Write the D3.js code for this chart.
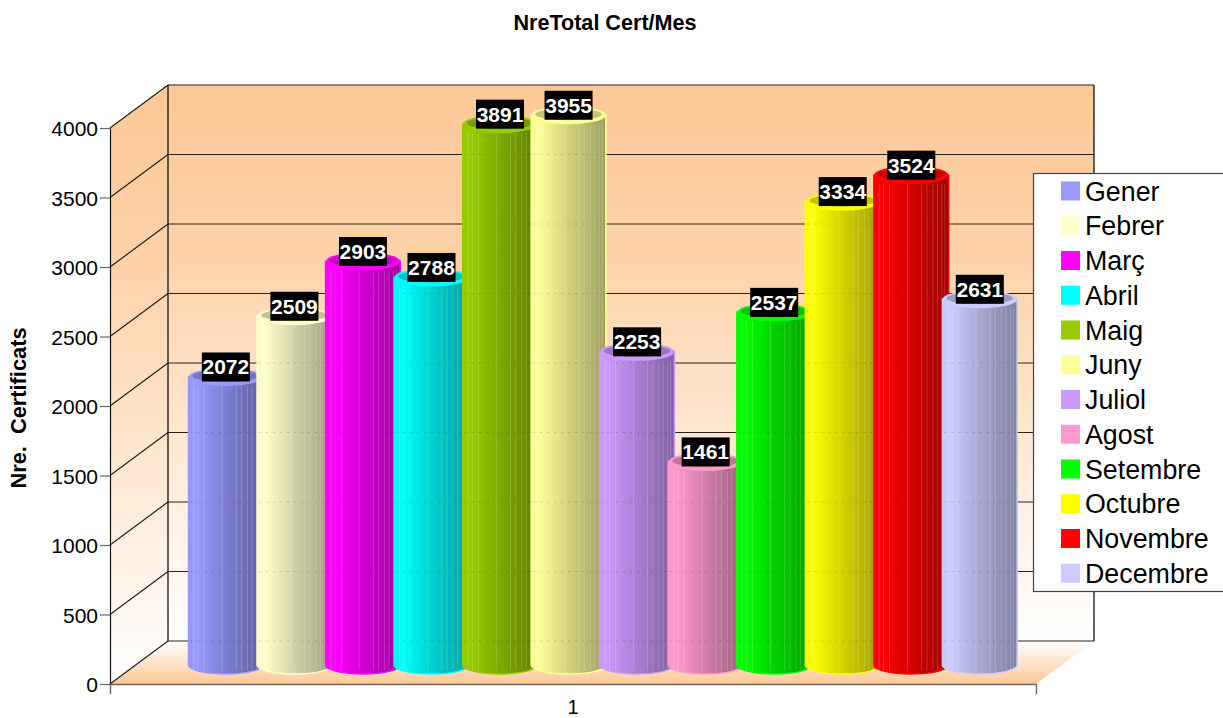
<!DOCTYPE html>
<html>
<head>
<meta charset="utf-8">
<script src="https://cdn.jsdelivr.net/npm/d3@7"></script>
<style>
html, body { margin: 0; padding: 0; background: #fff; overflow: hidden; }
svg text { font-family: "Liberation Sans", Arial, sans-serif; }
</style>
</head>
<body>
<div id="chart"></div>
<script>
const months = ["Gener", "Febrer", "Març", "Abril", "Maig", "Juny", "Juliol", "Agost", "Setembre", "Octubre", "Novembre", "Decembre"];
const values = [2072, 2509, 2903, 2788, 3891, 3955, 2253, 1461, 2537, 3334, 3524, 2631];
const colors = ["#9999ff", "#ffffcc", "#ff00ff", "#00ffff", "#99cc00", "#ffff99", "#cc99ff", "#ff99cc", "#00ff00", "#ffff00", "#ff0000", "#ccccff"];
const yTicks = [0, 500, 1000, 1500, 2000, 2500, 3000, 3500, 4000];
const xCategories = ["1"];

const width = 1223, height = 718;
// front plane of the 3d box and how far the back wall is shifted from it
const front = {left: 110, right: 1036, top: 128, bottom: 684};
const depthX = 58, depthY = 43;
const barShiftY = 19;

const svg = d3.select("#chart").append("svg")
    .attr("width", width)
    .attr("height", height);
const defs = svg.append("defs");

const y = d3.scaleLinear().domain([0, 4000]).range([front.bottom, front.top]);
const x = d3.scaleBand().domain(xCategories).range([front.left, front.right]);
const xBars = d3.scaleBand().domain(months).range([188.5, 1011]);
const barW = xBars.step() * 1.09;
const rx = barW / 2, ry = 9;

// wall + floor gradients
const wallGrad = defs.append("linearGradient").attr("id", "wall")
    .attr("x1", 0).attr("y1", 0).attr("x2", 0).attr("y2", 1);
wallGrad.append("stop").attr("offset", "0").attr("stop-color", "#fdc896");
wallGrad.append("stop").attr("offset", "0.3").attr("stop-color", "#fed2a9");
wallGrad.append("stop").attr("offset", "1").attr("stop-color", "#ffffff");
const floorGrad = defs.append("linearGradient").attr("id", "floor")
    .attr("x1", 0).attr("y1", 0).attr("x2", 0).attr("y2", 1);
floorGrad.append("stop").attr("offset", "0").attr("stop-color", "#ffffff");
floorGrad.append("stop").attr("offset", "1").attr("stop-color", "#fdc896");

const backLeft = front.left + depthX, backRight = front.right + depthX;

// side wall
svg.append("polygon")
    .attr("points", [[front.left, y(4000)], [backLeft, y(4000) - depthY], [backLeft, y(0) - depthY], [front.left, y(0)]].join(" "))
    .attr("fill", "url(#wall)");
// back wall
svg.append("rect")
    .attr("x", backLeft).attr("y", y(4000) - depthY)
    .attr("width", backRight - backLeft).attr("height", y(0) - y(4000))
    .attr("fill", "url(#wall)");
// floor
svg.append("polygon")
    .attr("points", [[front.left, y(0)], [backLeft, y(0) - depthY], [backRight, y(0) - depthY], [front.right, y(0)]].join(" "))
    .attr("fill", "url(#floor)");

// grid lines on the walls
yTicks.forEach(function(t) {
    svg.append("line")
        .attr("x1", front.left).attr("y1", y(t))
        .attr("x2", backLeft).attr("y2", y(t) - depthY)
        .attr("stroke", "#222").attr("stroke-width", 1.2);
    svg.append("line")
        .attr("x1", backLeft).attr("y1", y(t) - depthY)
        .attr("x2", backRight).attr("y2", y(t) - depthY)
        .attr("stroke", "#222").attr("stroke-width", 1.2);
});
svg.append("line")
    .attr("x1", backLeft).attr("y1", y(4000) - depthY)
    .attr("x2", backLeft).attr("y2", y(0) - depthY)
    .attr("stroke", "#111").attr("stroke-width", 1.3);
svg.append("line")
    .attr("x1", backRight).attr("y1", y(4000) - depthY)
    .attr("x2", backRight).attr("y2", y(0) - depthY)
    .attr("stroke", "#111").attr("stroke-width", 1.3);

// axes
const yAxis = svg.append("g")
    .attr("transform", "translate(" + front.left + ",0)")
    .call(d3.axisLeft(y).tickValues(yTicks).tickFormat(d3.format("d")).tickSizeInner(10).tickSizeOuter(0).tickPadding(2));
yAxis.selectAll("text").attr("font-size", 21).attr("fill", "#000").attr("dy", "0.37em");
yAxis.selectAll("line").attr("stroke", "#666").attr("stroke-width", 1.2);
yAxis.select("path").attr("stroke", "#111").attr("stroke-width", 1.2);

const xAxis = svg.append("g")
    .attr("transform", "translate(0," + front.bottom + ")")
    .call(d3.axisBottom(x).tickSizeInner(0).tickSizeOuter(10).tickPadding(16));
xAxis.selectAll("text").attr("font-size", 20).attr("fill", "#000");
xAxis.select("path").attr("stroke", "#666").attr("stroke-width", 1.4);

// cylinders, later months sit on top of earlier ones
const stripes = [0.07, 0.13, 0.21, 0.45, 0.64, 0.71, 0.79, 0.85, 0.91, 0.95];
months.forEach(function(m, i) {
    const c = d3.color(colors[i]);
    const grad = defs.append("linearGradient").attr("id", "bar" + i);
    grad.append("stop").attr("offset", "0").attr("stop-color", c.darker(0.05));
    grad.append("stop").attr("offset", "0.1").attr("stop-color", c);
    grad.append("stop").attr("offset", "0.5").attr("stop-color", c.darker(0.55));
    grad.append("stop").attr("offset", "1").attr("stop-color", c.darker(1.3));

    const left = xBars(m), right = left + barW;
    const top = y(values[i]) - barShiftY;
    const base = y(0) - barShiftY;
    const g = svg.append("g");

    g.append("path")
        .attr("d", "M" + left + "," + top + "L" + left + "," + base +
            "A" + rx + "," + ry + " 0 0 0 " + right + "," + base +
            "L" + right + "," + top + "Z")
        .attr("fill", "url(#bar" + i + ")")
        .attr("stroke", c)
        .attr("stroke-width", 1.5);

    // thin light bands of the faceted surface
    stripes.forEach(function(s) {
        const sx = left + barW * s;
        g.append("line")
            .attr("x1", sx).attr("y1", top + ry)
            .attr("x2", sx).attr("y2", base + ry * 0.6)
            .attr("stroke", "#fff").attr("stroke-opacity", 0.18).attr("stroke-width", 1);
    });

    // grid lines showing faintly through the bar
    yTicks.forEach(function(t) {
        const gy = y(t) - depthY;
        if (gy > top + ry && gy < base) {
            g.append("line")
                .attr("x1", left + 2).attr("y1", gy)
                .attr("x2", right - 2).attr("y2", gy)
                .attr("stroke", "#000").attr("stroke-opacity", 0.15)
                .attr("stroke-dasharray", "2 5");
        }
    });

    // top cap
    g.append("ellipse")
        .attr("cx", left + rx).attr("cy", top).attr("rx", rx).attr("ry", ry)
        .attr("fill", c);
    g.append("ellipse")
        .attr("cx", left + rx).attr("cy", top - 1).attr("rx", rx - 4).attr("ry", ry - 3)
        .attr("fill", c.darker(0.75));
});

// value labels go above all the bars
months.forEach(function(m, i) {
    const cx = xBars(m) + barW / 2;
    const cy = y(values[i]) - barShiftY - 10;
    svg.append("rect")
        .attr("x", cx - 24).attr("y", cy - 14.5)
        .attr("width", 48).attr("height", 29)
        .attr("fill", "#000");
    svg.append("text")
        .attr("x", cx).attr("y", cy + 7.5)
        .attr("text-anchor", "middle")
        .attr("font-size", 21).attr("font-weight", "bold")
        .attr("fill", "#fff")
        .text(values[i]);
});

// titles
svg.append("text")
    .attr("x", 605).attr("y", 30)
    .attr("text-anchor", "middle")
    .attr("font-size", 21.6).attr("font-weight", "bold")
    .text("NreTotal Cert/Mes");
svg.append("text")
    .attr("transform", "translate(26,408) rotate(-90)")
    .attr("text-anchor", "middle")
    .attr("font-size", 21.8).attr("font-weight", "bold")
    .style("white-space", "pre")
    .text("Nre.  Certificats");

// legend
const legend = svg.append("g");
legend.append("rect")
    .attr("x", 1033.5).attr("y", 173.5)
    .attr("width", 200).attr("height", 418)
    .attr("fill", "#fff")
    .attr("stroke", "#444").attr("stroke-width", 1.2);
months.forEach(function(m, i) {
    const ly = 191 + i * 34.75;
    legend.append("rect")
        .attr("x", 1061).attr("y", ly - 9.5)
        .attr("width", 19).attr("height", 19)
        .attr("fill", colors[i]);
    legend.append("text")
        .attr("x", 1085).attr("y", ly + 9.5)
        .attr("font-size", 26.8)
        .attr("fill", "#000")
        .text(m);
});
</script>
</body>
</html>
